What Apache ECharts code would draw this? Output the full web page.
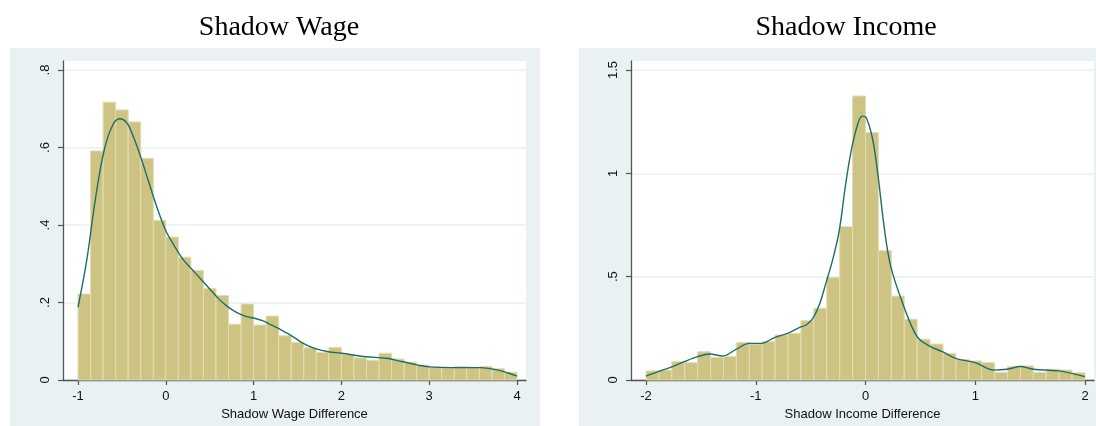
<!DOCTYPE html>
<html>
<head>
<meta charset="utf-8">
<script src="https://cdn.jsdelivr.net/npm/echarts@6/dist/echarts.min.js"></script>
<style>
html,body{margin:0;padding:0;background:#fff;}
#chart{width:1096px;height:426px;}
</style>
</head>
<body>
<div id="chart"></div>
<script>
// ---------- data ----------
const wageTitle = 'Shadow Wage';
const incomeTitle = 'Shadow Income';
const wageAxisName = 'Shadow Wage Difference';
const incomeAxisName = 'Shadow Income Difference';

// histogram: 35 bins from -1 to 4
const wageBinStart = -1;
const wageBinWidth = 5 / 35;
const wageDensity = [0.222, 0.591, 0.717, 0.697, 0.666, 0.572, 0.412, 0.369, 0.317, 0.283,
  0.236, 0.218, 0.144, 0.196, 0.142, 0.165, 0.114, 0.097, 0.083, 0.071,
  0.084, 0.066, 0.057, 0.051, 0.069, 0.054, 0.046, 0.038, 0.033, 0.032,
  0.035, 0.033, 0.035, 0.029, 0.020];
// kernel density curve
const wageKdeX = [-1, -0.9, -0.8, -0.7, -0.6, -0.52, -0.45, -0.4, -0.3, -0.2, -0.1, 0, 0.1, 0.2, 0.3, 0.4, 0.5, 0.6, 0.7, 0.8, 0.9, 1.0, 1.1, 1.2, 1.3, 1.42, 1.56, 1.7, 1.85, 2.0, 2.28, 2.51, 2.7, 2.86, 3.0, 3.27, 3.58, 3.77, 3.9, 4.0];
const wageKdeY = [0.188, 0.31, 0.47, 0.595, 0.66, 0.674, 0.665, 0.645, 0.585, 0.515, 0.445, 0.385, 0.345, 0.31, 0.285, 0.26, 0.235, 0.21, 0.19, 0.175, 0.165, 0.16, 0.153, 0.142, 0.131, 0.116, 0.095, 0.081, 0.073, 0.069, 0.060, 0.056, 0.047, 0.039, 0.034, 0.032, 0.032, 0.026, 0.018, 0.010];

// histogram: 34 bins from -2 to 2
const incomeBinStart = -2;
const incomeBinWidth = 4 / 34;
const incomeDensity = [0.044, 0.048, 0.089, 0.084, 0.137, 0.110, 0.113, 0.182, 0.174, 0.185,
  0.218, 0.226, 0.287, 0.347, 0.497, 0.742, 1.374, 1.197, 0.626, 0.406,
  0.294, 0.198, 0.174, 0.129, 0.100, 0.092, 0.084, 0.037, 0.065, 0.068,
  0.037, 0.052, 0.048, 0.035];
const incomeKdeX = [-2, -1.87, -1.77, -1.65, -1.53, -1.42, -1.30, -1.18, -1.06, -0.95, -0.83, -0.71, -0.60, -0.54, -0.48, -0.42, -0.36, -0.30, -0.24, -0.18, -0.13, -0.07, -0.03, 0.006, 0.067, 0.116, 0.17, 0.23, 0.35, 0.47, 0.58, 0.70, 0.82, 1.0, 1.17, 1.29, 1.41, 1.53, 1.76, 2.0];
const incomeKdeY = [0.019, 0.044, 0.062, 0.089, 0.113, 0.126, 0.116, 0.148, 0.177, 0.177, 0.205, 0.226, 0.255, 0.266, 0.298, 0.365, 0.47, 0.58, 0.72, 0.95, 1.11, 1.24, 1.277, 1.27, 1.16, 0.98, 0.74, 0.55, 0.355, 0.21, 0.165, 0.137, 0.105, 0.084, 0.048, 0.052, 0.065, 0.052, 0.044, 0.016];

// ticks
const wageXTicks = [-1, 0, 1, 2, 3, 4];
const wageYTicks = [0, 0.2, 0.4, 0.6, 0.8];
const wageYTickLabels = ['0', '.2', '.4', '.6', '.8'];
const incomeXTicks = [-2, -1, 0, 1, 2];
const incomeYTicks = [0, 0.5, 1, 1.5];
const incomeYTickLabels = ['0', '.5', '1', '1.5'];

// ---------- styles ----------
const BAR_FILL = '#cdc484';
const BAR_EDGE = '#e2ddb4';
const CURVE = '#1f6d68';
const AXIS = '#555555';
const GRID_LINE = '#e8eff0';
const PANEL_BG = '#eaf1f3';
const LABEL_FONT = 'Liberation Sans, Arial, sans-serif';

function histData(start, width, vals) {
  return vals.map((v, i) => [start + i * width, start + (i + 1) * width, v]);
}
function renderHist(params, api) {
  const p0 = api.coord([api.value(0), api.value(2)]);
  const p1 = api.coord([api.value(1), 0]);
  return {
    type: 'rect',
    shape: { x: p0[0], y: p0[1], width: p1[0] - p0[0], height: p1[1] - p0[1] },
    style: { fill: BAR_FILL, stroke: BAR_EDGE, lineWidth: 1 }
  };
}
function pairs(xs, ys) { return xs.map((x, i) => [x, ys[i]]); }

function xAxisCfg(gridIndex, min, max, ticks, name) {
  return {
    type: 'value', gridIndex, min, max,
    name, nameLocation: 'middle', nameGap: 24,
    nameTextStyle: { fontFamily: LABEL_FONT, fontSize: 13, color: '#111' },
    axisLine: { show: true, onZero: false, lineStyle: { color: AXIS, width: 1.3 } },
    axisTick: { show: true, length: 5, customValues: ticks, lineStyle: { color: AXIS, width: 1.2 } },
    axisLabel: { customValues: ticks, margin: 10, fontFamily: LABEL_FONT, fontSize: 13, color: '#111',
      formatter: v => String(v) },
    splitLine: { show: false }
  };
}
function yAxisCfg(gridIndex, min, max, ticks, labels) {
  return {
    type: 'value', gridIndex, min, max,
    axisLine: { show: true, onZero: false, lineStyle: { color: AXIS, width: 1.3 } },
    axisTick: { show: true, length: 5, customValues: ticks, lineStyle: { color: AXIS, width: 1.2 } },
    axisLabel: { customValues: ticks, rotate: 90, margin: 11, fontFamily: LABEL_FONT, fontSize: 13, color: '#111',
      formatter: v => { const k = ticks.findIndex(t => Math.abs(t - v) < 1e-9); return k >= 0 ? labels[k] : ''; } },
    splitLine: { show: true, lineStyle: { color: GRID_LINE, width: 1.5 } }
  };
}

const chart = echarts.init(document.getElementById('chart'), null, { renderer: 'canvas' });
chart.setOption({
  animation: false,
  backgroundColor: '#ffffff',
  graphic: [
    { type: 'rect', z: -10, shape: { x: 10, y: 48, width: 530, height: 378 }, style: { fill: PANEL_BG } },
    { type: 'rect', z: -10, shape: { x: 579, y: 48, width: 517, height: 378 }, style: { fill: PANEL_BG } },
    { type: 'text', x: 279, y: 28, style: { text: wageTitle, fontFamily: 'Liberation Serif, Times New Roman, serif', fontSize: 28, fill: '#000', textAlign: 'center', textVerticalAlign: 'middle' } },
    { type: 'text', x: 846, y: 28, style: { text: incomeTitle, fontFamily: 'Liberation Serif, Times New Roman, serif', fontSize: 28, fill: '#000', textAlign: 'center', textVerticalAlign: 'middle' } }
  ],
  grid: [
    { left: 63, top: 61, width: 463, height: 319, show: true, backgroundColor: '#ffffff', borderWidth: 0, containLabel: false },
    { left: 631, top: 61, width: 463, height: 319, show: true, backgroundColor: '#ffffff', borderWidth: 0, containLabel: false }
  ],
  xAxis: [
    xAxisCfg(0, -1.171, 4.1025, wageXTicks, wageAxisName),
    xAxisCfg(1, -2.1367, 2.082, incomeXTicks, incomeAxisName)
  ],
  yAxis: [
    yAxisCfg(0, 0, 0.8232, wageYTicks, wageYTickLabels),
    yAxisCfg(1, 0, 1.5435, incomeYTicks, incomeYTickLabels)
  ],
  series: [
    { type: 'custom', xAxisIndex: 0, yAxisIndex: 0, renderItem: renderHist,
      encode: { x: [0, 1], y: 2 }, data: histData(wageBinStart, wageBinWidth, wageDensity), z: 2 },
    { type: 'line', xAxisIndex: 0, yAxisIndex: 0, data: pairs(wageKdeX, wageKdeY), smooth: 0.35,
      showSymbol: false, lineStyle: { color: CURVE, width: 1.4 }, z: 3 },
    { type: 'custom', xAxisIndex: 1, yAxisIndex: 1, renderItem: renderHist,
      encode: { x: [0, 1], y: 2 }, data: histData(incomeBinStart, incomeBinWidth, incomeDensity), z: 2 },
    { type: 'line', xAxisIndex: 1, yAxisIndex: 1, data: pairs(incomeKdeX, incomeKdeY), smooth: 0.35,
      showSymbol: false, lineStyle: { color: CURVE, width: 1.4 }, z: 3 }
  ]
});
</script>
</body>
</html>
